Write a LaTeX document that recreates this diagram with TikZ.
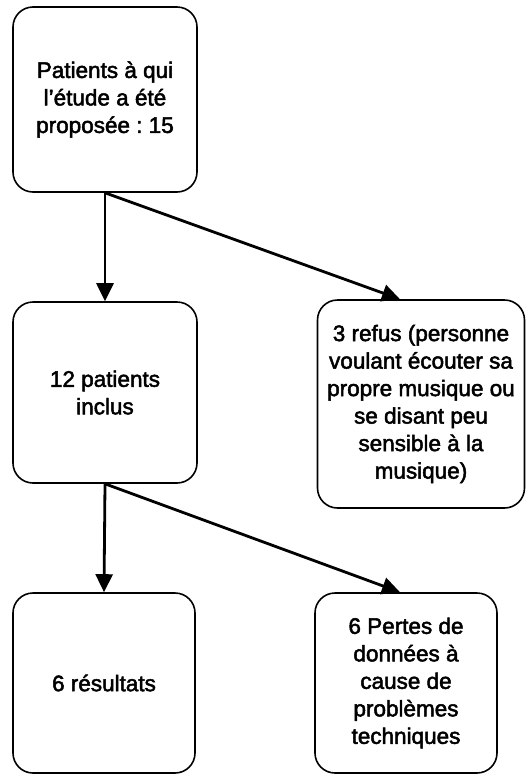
\documentclass[tikz,border=0pt]{standalone}
\usepackage{fontspec}
\usetikzlibrary{arrows.meta}
\newfontfamily\boxfont{Liberation Sans}[BoldFont={Liberation Sans}, BoldFeatures={FakeBold=2.2}]
\begin{document}
\begin{tikzpicture}[x=1pt,y=-1pt,
  flowbox/.style={draw, line width=1.6pt, rounded corners=20pt, align=center,
    font=\boxfont\bfseries\frenchspacing\fontsize{22.5}{27.5}\selectfont, inner sep=0pt},
  arr/.style={-{Triangle[length=18pt,width=17pt]}, line width=2.8pt}]
\useasboundingbox (0,0) rectangle (526,774);
\node[flowbox, minimum width=184pt, minimum height=185pt] (a) at (105,99.5) {Patients à qui\\l’étude a été\\proposée : 15};
\node[flowbox, minimum width=184pt, minimum height=181pt] (b) at (105,392.5) {12 patients\\inclus};
\node[flowbox, minimum width=207pt, minimum height=208pt] (c) at (421,404) {3 refus (personne\\voulant écouter sa\\propre musique ou\\se disant peu\\sensible à la\\musique)};
\node[flowbox, minimum width=182pt, minimum height=180pt] (d) at (104,683) {6 résultats};
\node[flowbox, minimum width=182pt, minimum height=180pt] (e) at (406,683) {6 Pertes de\\données à\\cause de\\problèmes\\techniques};
\draw[arr] (a.south) -- (b.north);
\draw[arr] (a.south) -- ([xshift=-21pt]c.north);
\draw[arr] (b.south) -- (d.north);
\draw[arr] (b.south) -- ([xshift=-6pt]e.north);
\end{tikzpicture}
\end{document}
